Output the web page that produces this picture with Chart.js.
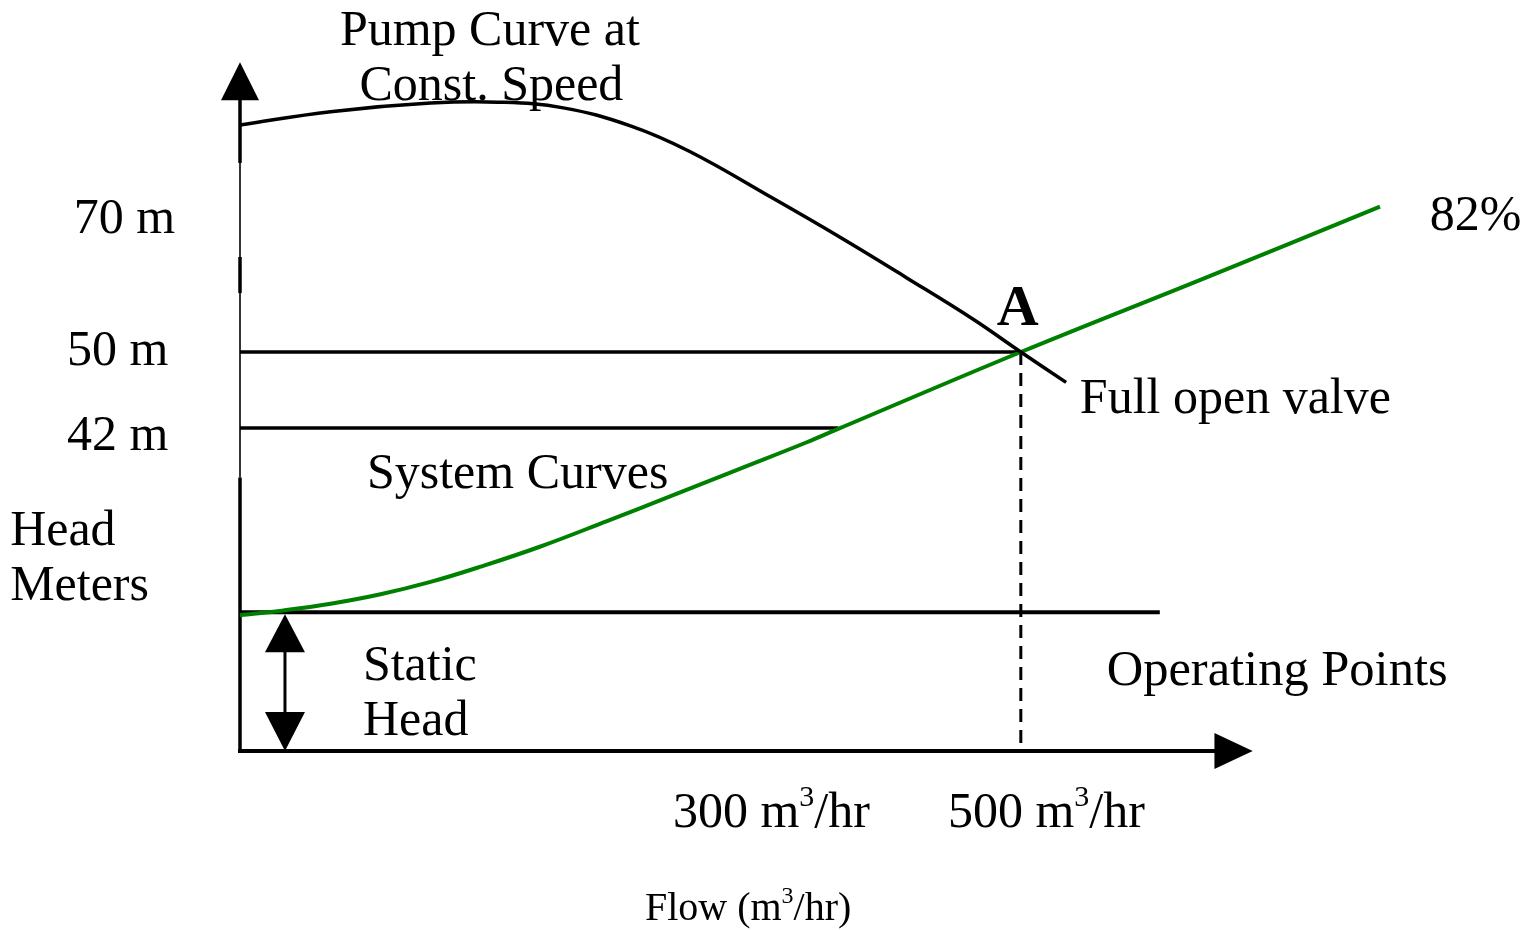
<!DOCTYPE html>
<html>
<head>
<meta charset="utf-8">
<script src="https://cdn.jsdelivr.net/npm/chart.js@4"></script>
<style>
  html, body { margin: 0; padding: 0; background: #fff; }
  #wrap { width: 1528px; height: 930px; }
</style>
</head>
<body>
<div id="wrap"><canvas id="pumpChart" width="1528" height="930"></canvas></div>
<script>
// values (flow in m3/hr, head in m)
const pumpFlow = [0, 58, 122, 165, 207, 250, 288, 341, 384, 427, 469, 500, 529];
const pumpHead = [73.9, 75.3, 76.2, 76.3, 75.7, 73.8, 71.1, 66.2, 62.1, 57.8, 53.5, 50, 46.8];
const systemFlow = [0, 28, 58, 90, 122, 154, 192, 235, 277, 320, 363, 383, 500, 615, 730];
const systemHead = [22.3, 22.8, 23.5, 24.5, 25.8, 27.4, 29.5, 32.2, 34.9, 37.7, 40.5, 41.9, 50, 57.6, 65.3];
const headLevels = [50, 42];        // horizontal head lines
const levelEndFlow = [500, 383];    // where each one meets a curve
const staticHead = 22.6;
const staticEndFlow = 589;
const operatingFlow = 500;
const headTicks = ['70 m', '50 m', '42 m'];
const flowTicks = ['300', '500'];

const SERIF = '"Liberation Serif", "Times New Roman", serif';
const GREEN = 'rgb(0,128,0)';

function pts(xs, ys) {
  return xs.map((x, i) => ({ x: x, y: ys[i] }));
}

const datasets = [
  {
    label: 'Pump Curve at Const. Speed',
    data: pts(pumpFlow, pumpHead),
    borderColor: '#000', borderWidth: 3.5,
    tension: 0.4
  },
  {
    label: 'System Curve',
    data: pts(systemFlow, systemHead),
    borderColor: GREEN, borderWidth: 4,
    tension: 0.4
  },
  {
    label: 'Static Head',
    data: [{ x: 0, y: staticHead }, { x: staticEndFlow, y: staticHead }],
    borderColor: '#000', borderWidth: 4
  },
  {
    label: 'Operating flow',
    data: [{ x: operatingFlow, y: headLevels[0] }, { x: operatingFlow, y: 8 }],
    borderColor: '#000', borderWidth: 3, borderDash: [13, 8]
  }
];
headLevels.forEach((h, i) => {
  datasets.push({
    label: h + ' m',
    data: [{ x: 0, y: h }, { x: levelEndFlow[i], y: h }],
    borderColor: '#000', borderWidth: 3.5
  });
});

// text on the drawing, placed in data units
const notes = [
  { parts: ['Pump Curve at'], x: 160, y: 82.3, align: 'center' },
  { parts: ['Const. Speed'], x: 161, y: 76.5, align: 'center' },
  { parts: [headTicks[0]], x: -106.5, y: 62.5 },
  { parts: [headTicks[1]], x: -110.8, y: 48.6 },
  { parts: [headTicks[2]], x: -110.8, y: 39.7 },
  { parts: ['Head'], x: -147.2, y: 29.7 },
  { parts: ['Meters'], x: -147.2, y: 23.9 },
  { parts: ['82%'], x: 761.8, y: 62.8 },
  { parts: ['A'], x: 498, y: 52.8, align: 'center', bold: true },
  { parts: ['Full open valve'], x: 537.8, y: 43.6 },
  { parts: ['System Curves'], x: 81.3, y: 35.7 },
  { parts: ['Static'], x: 78.7, y: 15.5 },
  { parts: ['Head'], x: 78.7, y: 9.7 },
  { parts: ['Operating Points'], x: 555, y: 14.9, size: 50.5 },
  { parts: [flowTicks[0] + ' m', { sup: '3' }, '/hr'], x: 277.2, y: 0 },
  { parts: [flowTicks[1] + ' m', { sup: '3' }, '/hr'], x: 453.3, y: 0 },
  { parts: ['Flow (m', { sup: '3' }, '/hr)'], x: 259.3, y: -9.8, size: 40 }
];

function drawRich(ctx, n, px, py) {
  const size = n.size || (n.bold ? 58 : 50);
  const supSize = Math.round(size * 0.6);
  const main = (n.bold ? 'bold ' : '') + size + 'px ' + SERIF;
  const small = supSize + 'px ' + SERIF;
  let total = 0;
  n.parts.forEach(p => {
    ctx.font = typeof p === 'string' ? main : small;
    total += ctx.measureText(typeof p === 'string' ? p : p.sup).width;
  });
  let x = n.align === 'center' ? px - total / 2 : px;
  ctx.textAlign = 'left';
  ctx.textBaseline = 'alphabetic';
  n.parts.forEach(p => {
    if (typeof p === 'string') {
      ctx.font = main;
      ctx.fillText(p, x, py);
      x += ctx.measureText(p).width;
    } else {
      ctx.font = small;
      ctx.fillText(p.sup, x, py - size * 0.42);
      x += ctx.measureText(p.sup).width;
    }
  });
}

function tri(ctx, a, b, c) {
  ctx.beginPath();
  ctx.moveTo(a[0], a[1]); ctx.lineTo(b[0], b[1]); ctx.lineTo(c[0], c[1]);
  ctx.closePath();
  ctx.fill();
}

const diagramPlugin = {
  id: 'diagram',
  beforeDatasetsDraw(chart) {
    const ctx = chart.ctx;
    const xs = chart.scales.x, ys = chart.scales.y;
    const x0 = xs.getPixelForValue(0);
    const yb = ys.getPixelForValue(8);
    ctx.save();
    ctx.strokeStyle = '#000';
    ctx.fillStyle = '#000';
    ctx.lineCap = 'butt';

    // y axis: thick and thin pieces, then arrow
    const pieces = [[8, 36.8, 3.5], [36.8, 56.2, 1.6], [56.2, 60, 3.5], [60, 69.9, 1.6], [69.9, 77, 3.5]];
    pieces.forEach(p => {
      ctx.lineWidth = p[2];
      ctx.beginPath();
      ctx.moveTo(x0, ys.getPixelForValue(p[0]) + (p[0] === 8 ? 2 : 0));
      ctx.lineTo(x0, ys.getPixelForValue(p[1]));
      ctx.stroke();
    });
    const ytip = ys.getPixelForValue(80.5), ybase = ys.getPixelForValue(76.5);
    tri(ctx, [x0, ytip], [x0 - 19, ybase], [x0 + 19, ybase]);

    // x axis and arrow
    const xbase = xs.getPixelForValue(624), xtip = xs.getPixelForValue(648.5);
    ctx.lineWidth = 4;
    ctx.beginPath();
    ctx.moveTo(x0 - 2, yb);
    ctx.lineTo(xbase + 2, yb);
    ctx.stroke();
    tri(ctx, [xtip, yb], [xbase, yb - 18], [xbase, yb + 18]);

    // static head double arrow
    const xa = xs.getPixelForValue(28.8);
    const ya = ys.getPixelForValue(staticHead) + 2;
    ctx.lineWidth = 3;
    ctx.beginPath();
    ctx.moveTo(xa, ya + 30);
    ctx.lineTo(xa, yb - 30);
    ctx.stroke();
    tri(ctx, [xa, ya], [xa - 20, ya + 38], [xa + 20, ya + 38]);
    tri(ctx, [xa, yb], [xa - 20, yb - 39], [xa + 20, yb - 39]);
    ctx.restore();
  },
  afterDraw(chart) {
    const ctx = chart.ctx;
    const xs = chart.scales.x, ys = chart.scales.y;
    ctx.save();
    ctx.fillStyle = '#000';
    notes.forEach(n => drawRich(ctx, n, xs.getPixelForValue(n.x), ys.getPixelForValue(n.y)));
    ctx.restore();
  }
};

new Chart(document.getElementById('pumpChart').getContext('2d'), {
  type: 'line',
  data: { datasets: datasets },
  options: {
    responsive: false,
    animation: false,
    events: [],
    clip: false,
    layout: { padding: { left: 240, right: 148, top: 67, bottom: 179 } },
    elements: { point: { radius: 0 }, line: { fill: false, borderCapStyle: 'butt' } },
    plugins: { legend: { display: false }, tooltip: { enabled: false } },
    scales: {
      x: { type: 'linear', min: 0, max: 730, display: false },
      y: { type: 'linear', min: 8, max: 80, display: false }
    }
  },
  plugins: [diagramPlugin]
});
</script>
</body>
</html>
